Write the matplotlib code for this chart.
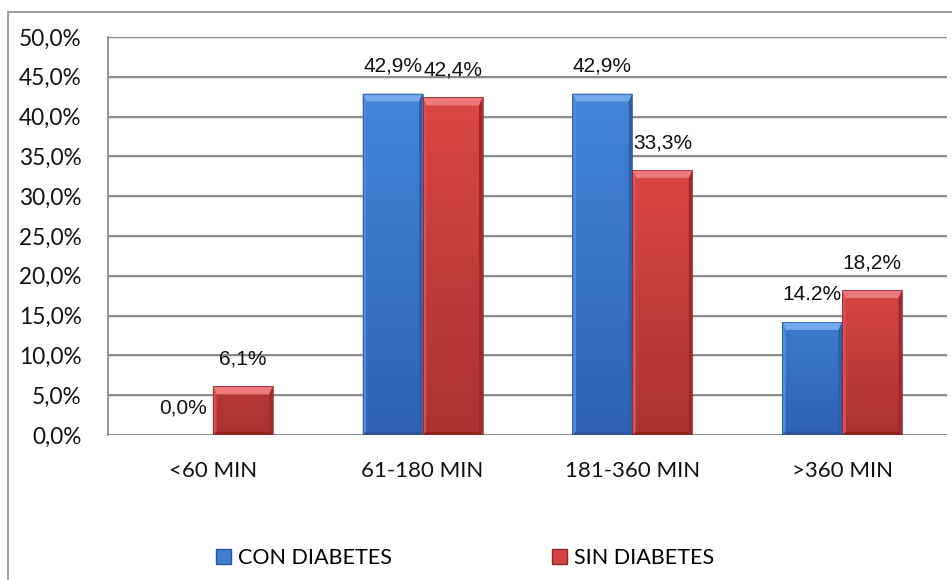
import matplotlib
matplotlib.use("Agg")
import matplotlib.pyplot as plt
from matplotlib.patches import Polygon, Rectangle
from matplotlib.colors import LinearSegmentedColormap
import numpy as np

categories = ["<60 MIN", "61-180 MIN", "181-360 MIN", ">360 MIN"]
con_diabetes = [0.0, 42.9, 42.9, 14.2]
sin_diabetes = [6.1, 42.4, 33.3, 18.2]
con_labels = ["0,0%", "42,9%", "42,9%", "14.2%"]
sin_labels = ["6,1%", "42,4%", "33,3%", "18,2%"]
series_names = ["CON DIABETES", "SIN DIABETES"]
y_ticks = [0, 5, 10, 15, 20, 25, 30, 35, 40, 45, 50]
y_tick_labels = [f"{t:.1f}%".replace(".", ",") for t in y_ticks]

BLUE = {"face": "#3e7ed0", "grad": ("#2f62b2", "#4285d8"), "top": "#74aaec",
        "left": "#4d8cdb", "right": "#2d5ea8", "bottom": "#2a5496"}
RED = {"face": "#d84242", "grad": ("#a93232", "#dc4646"), "top": "#ec7a7a",
       "left": "#d95050", "right": "#a02a2a", "bottom": "#8e2424"}

tick_font = ["Lato", "DejaVu Sans"]
label_font = ["Liberation Sans Narrow", "Liberation Sans", "DejaVu Sans"]

fig = plt.figure(figsize=(9.53, 5.80), dpi=100)
fig.patch.set_facecolor("white")

# outer chart frame
fig.patches.append(Rectangle((8 / 953, -0.02), 1.0, (580 - 12) / 580 + 0.02,
                             transform=fig.transFigure, fill=False,
                             edgecolor="#8c8c8c", linewidth=1.2, zorder=0))

ax = fig.add_axes([108 / 953, 1 - 435 / 580, (947 - 108) / 953, (435 - 37) / 580])
ax.set_xlim(-0.5, len(categories) - 0.5)
ax.set_ylim(0, 50)

x = np.arange(len(categories))
w = 0.286

for s in ["top", "right", "bottom"]:
    ax.spines[s].set_visible(False)
ax.spines["left"].set_color("#8c8c8c")
ax.spines["left"].set_linewidth(1.3)

for t in y_ticks:
    ax.axhline(t - 0.12, color="#dcdcdc", linewidth=1.2, zorder=0)
    ax.axhline(t, color="#8a8a8a", linewidth=1.4, zorder=0.5)


def bevel_bar(patch, colors):
    x0 = patch.get_x()
    bw = patch.get_width()
    h = patch.get_height()
    if h <= 0:
        return
    x1 = x0 + bw
    # vertical shading of the bar face
    cmap = LinearSegmentedColormap.from_list("shade", colors["grad"])
    grad = np.linspace(0, 1, 64).reshape(-1, 1)
    im = ax.imshow(grad, cmap=cmap, aspect="auto", origin="lower",
                   extent=(x0, x1, 0, max(h, 20)), zorder=2.5, interpolation="bilinear")
    im.set_clip_path(patch)
    dx = bw * 0.06
    dy = min(1.0, h * 0.2)
    dyb = min(0.4, h * 0.1)
    ax.add_patch(Polygon([(x0, h), (x1, h), (x1 - dx, h - dy), (x0 + dx, h - dy)],
                         closed=True, facecolor=colors["top"], edgecolor="none", zorder=3))
    ax.add_patch(Polygon([(x0, 0), (x0, h), (x0 + dx, h - dy), (x0 + dx, dyb)],
                         closed=True, facecolor=colors["left"], edgecolor="none", zorder=3))
    ax.add_patch(Polygon([(x1, 0), (x1, h), (x1 - dx, h - dy), (x1 - dx, dyb)],
                         closed=True, facecolor=colors["right"], edgecolor="none", zorder=3))
    ax.add_patch(Polygon([(x0, 0), (x1, 0), (x1 - dx, dyb), (x0 + dx, dyb)],
                         closed=True, facecolor=colors["bottom"], edgecolor="none", zorder=3))
    ax.add_patch(Rectangle((x0, 0), bw, h, fill=False, edgecolor=colors["bottom"],
                           linewidth=0.5, zorder=4))


bars_con = ax.bar(x - w / 2, con_diabetes, width=w, color=BLUE["face"], zorder=2)
bars_sin = ax.bar(x + w / 2, sin_diabetes, width=w, color=RED["face"], zorder=2)

for p in bars_con:
    bevel_bar(p, BLUE)
for p in bars_sin:
    bevel_bar(p, RED)

for bars, labels in ((bars_con, con_labels), (bars_sin, sin_labels)):
    for p, lab in zip(bars, labels):
        ax.annotate(lab, (p.get_x() + p.get_width() / 2, p.get_height()),
                    xytext=(0, 19.5), textcoords="offset points", ha="center", va="center",
                    fontsize=15, family=label_font, color="#111111", zorder=5)

ax.set_yticks(y_ticks)
ax.set_yticklabels(y_tick_labels, fontsize=16.3, family=tick_font, color="#111111")
ax.tick_params(axis="y", length=0, pad=19)
ax.set_xticks(x)
ax.set_xticklabels(categories, fontsize=16, family=tick_font, color="#111111")
ax.tick_params(axis="x", length=0, pad=19)

handles = [Rectangle((0, 0), 1, 1, facecolor=BLUE["face"], edgecolor=BLUE["bottom"]),
           Rectangle((0, 0), 1, 1, facecolor=RED["face"], edgecolor=RED["bottom"])]
fig.legend(handles, series_names, loc="center", bbox_to_anchor=(465 / 953, 1 - 558 / 580),
           ncol=2, frameon=False, columnspacing=7.45, handlelength=0.7, handleheight=0.7,
           handletextpad=0.3, prop={"family": tick_font, "size": 15.5})

fig.savefig("out.png", dpi=100)
